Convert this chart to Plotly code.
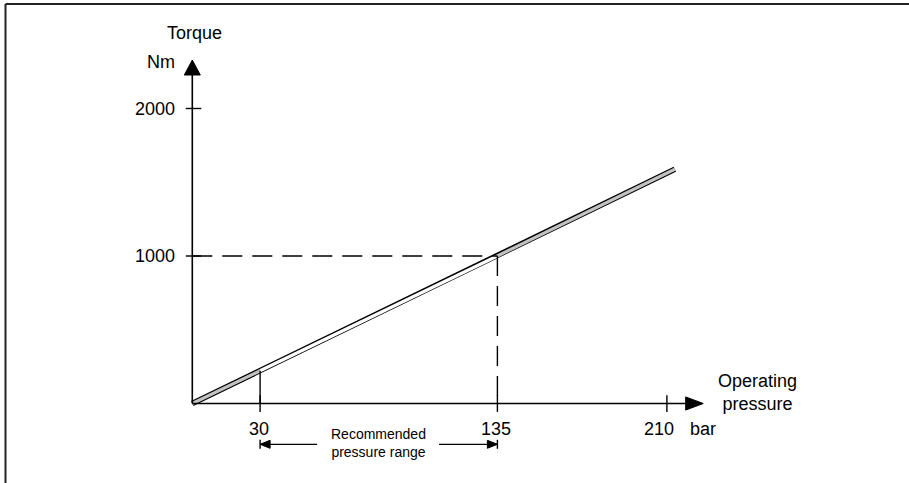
import plotly.graph_objects as go

# ---------------- data ----------------
pressure_bar = [0, 30, 135, 213.5]          # points along the torque line
torque_nm = [0, 222, 1000, 1588]
x_tick_vals = [30, 135, 210]
x_tick_text = ["30", "135", "210"]
y_tick_vals = [1000, 2000]
y_tick_text = ["1000", "2000"]
recommended_range = [30, 135]
operating_point = [135, 1000]
x_title = "Operating<br>pressure"
x_unit = "bar"
y_title = "Torque"
y_unit = "Nm"
range_label = "Recommended<br>pressure range"

# ---------------- geometry / style ----------------
W, H = 909, 483
X0_PX, X_PX_PER_BAR = 192.3, 2.26
Y0_PX, Y_PX_PER_NM = 403.5, 0.1475
x_range = [-X0_PX / X_PX_PER_BAR, (W - X0_PX) / X_PX_PER_BAR]
y_range = [-(H - Y0_PX) / Y_PX_PER_NM, Y0_PX / Y_PX_PER_NM]
AXIS_X_END = 218.3
AXIS_Y_END = 2227

FONT = "Liberation Sans, Arial, sans-serif"
MAIN_SIZE = 18
SMALL_SIZE = 14
INK = "black"
BAND_GRAY = "#c2c2c2"

fig = go.Figure()

# torque line: black outline, then gray / white / gray filling
fig.add_trace(go.Scatter(x=pressure_bar, y=torque_nm, mode="lines",
                         line=dict(color=INK, width=5.5), hoverinfo="skip",
                         showlegend=False))
segments = [(0, 2, BAND_GRAY), (1, 3, "white"), (2, 4, BAND_GRAY)]
for a, b, col in segments:
    fig.add_trace(go.Scatter(x=pressure_bar[a:b], y=torque_nm[a:b], mode="lines",
                             line=dict(color=col, width=3.2), hoverinfo="skip",
                             showlegend=False))

shapes = []
# border (top and left)
shapes.append(dict(type="line", xref="paper", yref="paper",
                   x0=5.5 / W, x1=1, y0=1 - 4 / H, y1=1 - 4 / H,
                   line=dict(color="#222", width=2)))
shapes.append(dict(type="line", xref="paper", yref="paper",
                   x0=5.5 / W, x1=5.5 / W, y0=0, y1=1 - 4 / H,
                   line=dict(color="#222", width=2)))
# axes
shapes.append(dict(type="line", xref="x", yref="y", x0=0, x1=AXIS_X_END, y0=0, y1=0,
                   line=dict(color=INK, width=1.6)))
shapes.append(dict(type="line", xref="x", yref="y", x0=0, x1=0, y0=0, y1=AXIS_Y_END,
                   line=dict(color=INK, width=1.6)))
# arrowheads
shapes.append(dict(type="path", xref="x", yref="y", xsizemode="pixel", ysizemode="pixel",
                   xanchor=AXIS_X_END, yanchor=0, path="M0,6.6 L17.6,0 L0,-6.6 Z",
                   fillcolor=INK, line=dict(color=INK, width=1)))
shapes.append(dict(type="path", xref="x", yref="y", xsizemode="pixel", ysizemode="pixel",
                   xanchor=0, yanchor=AXIS_Y_END, path="M-8,0 L8,0 L0,15 Z",
                   fillcolor=INK, line=dict(color=INK, width=1)))
# ticks
for v in x_tick_vals:
    shapes.append(dict(type="line", xref="x", yref="y", ysizemode="pixel", yanchor=0,
                       x0=v, x1=v, y0=-8.4, y1=8.3, line=dict(color=INK, width=1.4)))
for v in y_tick_vals:
    shapes.append(dict(type="line", xref="x", yref="y", xsizemode="pixel", xanchor=0,
                       x0=-6.5, x1=9, y0=v, y1=v, line=dict(color=INK, width=1.4)))
# vertical from the curve at the low end of the recommended range
shapes.append(dict(type="line", xref="x", yref="y",
                   x0=recommended_range[0], x1=recommended_range[0],
                   y0=0, y1=torque_nm[1], line=dict(color=INK, width=1.4)))
# dashed guide lines to the operating point
shapes.append(dict(type="line", xref="x", yref="y", x0=0, x1=operating_point[0],
                   y0=operating_point[1], y1=operating_point[1],
                   line=dict(color=INK, width=1.4, dash="20px,10px")))
shapes.append(dict(type="line", xref="x", yref="y", x0=operating_point[0],
                   x1=operating_point[0], y0=operating_point[1], y1=0,
                   line=dict(color=INK, width=1.4, dash="20px,10px")))
# recommended range arrows
ARR_Y = -40.8
for anchor, sgn, length in [(recommended_range[0], 1, 57), (recommended_range[1], -1, 58.4)]:
    shapes.append(dict(type="line", xref="x", yref="y", xsizemode="pixel", ysizemode="pixel",
                       xanchor=anchor, yanchor=0, x0=0, x1=sgn * length, y0=ARR_Y, y1=ARR_Y,
                       line=dict(color=INK, width=1.3)))
    shapes.append(dict(type="path", xref="x", yref="y", xsizemode="pixel", ysizemode="pixel",
                       xanchor=anchor, yanchor=0,
                       path=f"M0,{ARR_Y} L{sgn*10},{ARR_Y+4} L{sgn*10},{ARR_Y-4} Z",
                       fillcolor=INK, line=dict(color=INK, width=1)))
    shapes.append(dict(type="line", xref="x", yref="y", xsizemode="pixel", ysizemode="pixel",
                       xanchor=anchor, yanchor=0, x0=0, x1=0, y0=ARR_Y + 4.5, y1=ARR_Y - 4.5,
                       line=dict(color=INK, width=1.4)))

ann = []
def txt(text, x, y, size=MAIN_SIZE, xanchor="center", yanchor="middle", xshift=0, yshift=0,
        align="center"):
    ann.append(dict(text=text, x=x, y=y, xref="x", yref="y", showarrow=False,
                    xanchor=xanchor, yanchor=yanchor, xshift=xshift, yshift=yshift,
                    align=align, font=dict(family=FONT, size=size, color=INK)))

for v, t in zip(x_tick_vals, x_tick_text):
    txt(t, v, 0, yshift=-25, xshift=(-8 if v == x_tick_vals[-1] else -1))
txt(x_unit, x_tick_vals[-1], 0, xanchor="left", xshift=21, yshift=-25)
for v, t in zip(y_tick_vals, y_tick_text):
    txt(t, 0, v, xanchor="right", xshift=-15)
txt(y_title, 0, AXIS_Y_END, yshift=42, xshift=2)
txt(y_unit, 0, AXIS_Y_END, xanchor="right", xshift=-15, yshift=13)
txt(x_title, AXIS_X_END, 0, xshift=72, yshift=11)
txt(range_label, sum(recommended_range) / 2, 0, size=SMALL_SIZE, yshift=-39)

fig.update_layout(
    width=W, height=H, autosize=False,
    margin=dict(l=0, r=0, t=0, b=0, pad=0),
    paper_bgcolor="white", plot_bgcolor="white",
    xaxis=dict(range=x_range, visible=False, fixedrange=True),
    yaxis=dict(range=y_range, visible=False, fixedrange=True),
    shapes=shapes, annotations=ann, showlegend=False,
)
fig.write_html("out.html", config={"displayModeBar": False},
               post_script="document.body.style.margin='0px';"
                           "document.body.style.overflow='hidden';")
